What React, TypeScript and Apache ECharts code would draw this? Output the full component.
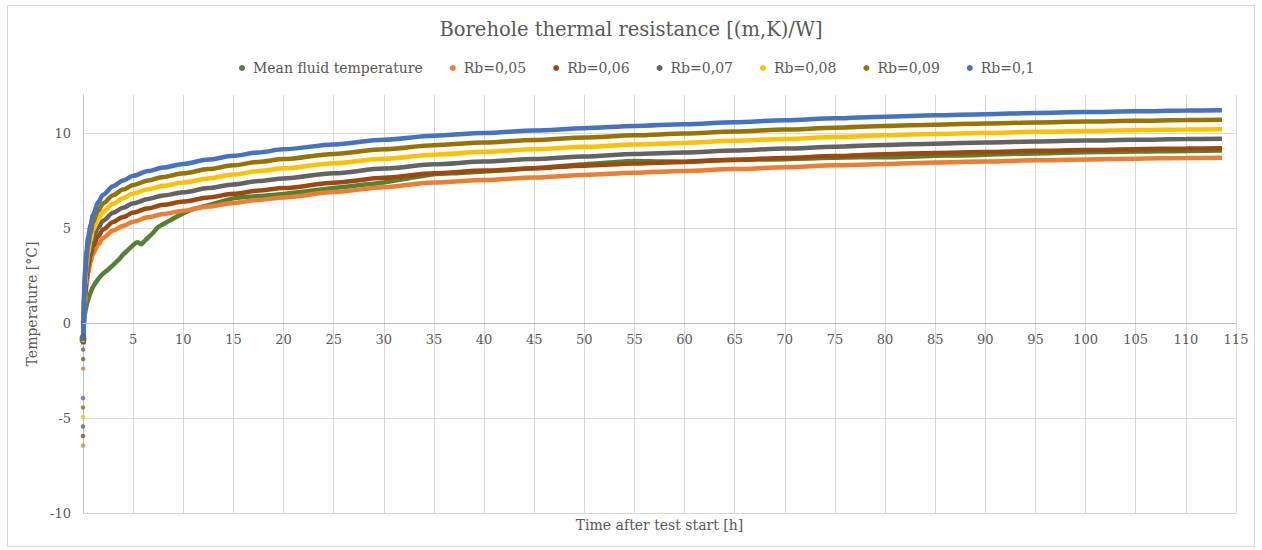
import React, { useEffect, useRef } from "react";
import * as echarts from "echarts";

// Hours after test start shared by the model curves
const hours = [
  0.02, 0.05, 0.1, 0.2, 0.35, 0.5, 0.75, 1, 1.5, 2, 3, 4, 5, 6.5, 8, 10, 12.5, 15, 17.5, 20,
  25, 30, 35, 40, 45, 50, 55, 60, 65, 70, 75, 80, 85, 90, 95, 100, 105, 110, 113.6,
];

// Modelled fluid temperature [°C] for each borehole thermal resistance
const rb005 = [
  -1.15, -0.6, 0.2, 1.1, 1.95, 2.6, 3.2, 3.65, 4.12, 4.48, 4.87, 5.12, 5.33, 5.56, 5.74, 5.91, 6.13,
  6.32, 6.48, 6.61, 6.89, 7.15, 7.4, 7.53, 7.66, 7.79, 7.91, 8.0, 8.1, 8.2, 8.3, 8.37, 8.45, 8.5,
  8.56, 8.61, 8.65, 8.68, 8.7,
];
const rb006 = [
  -1.1, -0.45, 0.45, 1.4, 2.3, 2.95, 3.55, 4.05, 4.55, 4.92, 5.32, 5.58, 5.81, 6.04, 6.22, 6.39,
  6.61, 6.8, 6.97, 7.1, 7.38, 7.64, 7.88, 8.02, 8.15, 8.28, 8.4, 8.48, 8.59, 8.69, 8.79, 8.88, 8.95,
  9.0, 9.06, 9.1, 9.15, 9.18, 9.2,
];
const rb007 = [
  -1.05, -0.3, 0.7, 1.7, 2.65, 3.3, 3.95, 4.45, 5.0, 5.38, 5.8, 6.07, 6.3, 6.53, 6.71, 6.88, 7.1,
  7.29, 7.47, 7.61, 7.88, 8.13, 8.35, 8.5, 8.63, 8.76, 8.89, 8.97, 9.08, 9.18, 9.28, 9.37, 9.44,
  9.5, 9.55, 9.6, 9.64, 9.68, 9.7,
];
const rb008 = [
  -1.0, -0.15, 0.95, 2.0, 3.0, 3.7, 4.35, 4.9, 5.45, 5.85, 6.28, 6.57, 6.82, 7.04, 7.22, 7.39, 7.61,
  7.81, 7.99, 8.14, 8.41, 8.65, 8.86, 9.01, 9.14, 9.27, 9.4, 9.48, 9.59, 9.69, 9.79, 9.88, 9.95,
  10.0, 10.06, 10.1, 10.15, 10.18, 10.2,
];
const rb009 = [
  -0.95, 0.0, 1.2, 2.35, 3.4, 4.1, 4.75, 5.3, 5.9, 6.3, 6.73, 7.02, 7.26, 7.5, 7.69, 7.88, 8.1, 8.3,
  8.48, 8.63, 8.9, 9.15, 9.36, 9.5, 9.63, 9.76, 9.88, 9.97, 10.08, 10.18, 10.28, 10.37, 10.44,
  10.5, 10.55, 10.6, 10.64, 10.68, 10.7,
];
const rb010 = [
  -0.9, 0.2, 1.5, 2.7, 3.8, 4.5, 5.15, 5.7, 6.35, 6.75, 7.2, 7.5, 7.75, 8.0, 8.18, 8.37, 8.6, 8.8,
  8.98, 9.14, 9.4, 9.65, 9.86, 10.0, 10.13, 10.25, 10.37, 10.46, 10.57, 10.67, 10.77, 10.86,
  10.93, 10.99, 11.05, 11.1, 11.14, 11.18, 11.2,
];

// First two model samples, before the curves take off
const startHours = [0, 0.01];
const rb005Start = [-6.45, -2.4];
const rb006Start = [-5.95, -1.9];
const rb007Start = [-5.45, -1.4];
const rb008Start = [-4.95, -0.9];
const rb009Start = [-4.45, -0.4];
const rb010Start = [-3.95, 0.1];

// Measured mean fluid temperature
const meanHours = [
  0, 0.03, 0.06, 0.1, 0.2, 0.35, 0.5, 0.75, 1, 1.5, 2, 2.5, 3, 3.5, 4, 4.5, 5, 5.4, 5.8, 6.2, 7,
  7.5, 8.5, 10, 11, 12.5, 15, 17.5, 20, 22.5, 25, 27.5, 30, 32.5, 35, 37.5, 40, 42.5, 45, 47.5, 50,
  52.5, 55, 57.5, 60, 62.5, 65, 67.5, 70, 72.5, 75, 77.5, 80, 82.5, 85, 87.5, 90, 92.5, 95, 97.5,
  100, 102.5, 105, 107.5, 110, 113.6,
];
const meanTemp = [
  -1.0, -0.9, -0.5, 0.0, 0.5, 0.9, 1.2, 1.6, 1.9, 2.3, 2.6, 2.8, 3.05, 3.3, 3.6, 3.85, 4.1, 4.25,
  4.15, 4.35, 4.75, 5.05, 5.35, 5.77, 6.0, 6.2, 6.56, 6.68, 6.79, 6.95, 7.1, 7.25, 7.4, 7.62, 7.83,
  7.9, 7.98, 8.05, 8.15, 8.25, 8.35, 8.45, 8.53, 8.5, 8.49, 8.55, 8.58, 8.6, 8.62, 8.66, 8.7, 8.72,
  8.72, 8.75, 8.8, 8.82, 8.85, 8.9, 8.92, 8.96, 8.99, 9.0, 9.02, 9.04, 9.05, 9.08,
];

const xTicks = { min: 0, max: 115, step: 5 };
const yTicks = { min: -10, max: 12, step: 5 };

const FONT = '"DejaVu Serif", serif';
const TEXT = "#595959";
const GRID_LINE = "#d9d9d9";
const AXIS_LINE = "#bfbfbf";

const modelSeries = [
  { name: "Rb=0,05", color: "#ED7D31", values: rb005, start: rb005Start },
  { name: "Rb=0,06", color: "#9E480E", values: rb006, start: rb006Start },
  { name: "Rb=0,07", color: "#636363", values: rb007, start: rb007Start },
  { name: "Rb=0,08", color: "#FFC000", values: rb008, start: rb008Start },
  { name: "Rb=0,09", color: "#997300", values: rb009, start: rb009Start },
  { name: "Rb=0,1", color: "#4472C4", values: rb010, start: rb010Start },
];
const meanName = "Mean fluid temperature";
const meanColor = "#548235";

// Plot rectangle in pixels
const PLOT = { left: 83, right: 26, top: 95, bottom: 37 };

export default function App() {
  const ref = useRef<HTMLDivElement>(null);

  useEffect(() => {
    document.body.style.margin = "0";
    if (!ref.current) return;
    const chart = echarts.init(ref.current, undefined, { renderer: "svg" });

    const plotHeight = 550 - PLOT.top - PLOT.bottom;
    // pixel row of 0 °C, where the time axis crosses
    const zeroRow = PLOT.top + (plotHeight * yTicks.max) / (yTicks.max - yTicks.min);

    const series: any[] = [
      {
        name: meanName,
        type: "line",
        data: meanHours.map((h, i) => [h, meanTemp[i]]),
        showSymbol: false,
        smooth: 0.2,
        lineStyle: { width: 4.5, color: meanColor },
        itemStyle: { color: meanColor },
        z: 2,
      },
    ];
    modelSeries.forEach((s, k) => {
      series.push({
        name: s.name,
        type: "line",
        data: hours.map((h, i) => [h, s.values[i]]),
        showSymbol: false,
        smooth: 0.3,
        smoothMonotone: "x",
        lineStyle: { width: 4.5, color: s.color },
        itemStyle: { color: s.color },
        z: 3 + k,
      });
      series.push({
        name: s.name,
        type: "scatter",
        data: startHours.map((h, i) => [h, s.start[i]]),
        symbolSize: 4.5,
        itemStyle: { color: s.color },
        z: 3 + k,
      });
    });

    const yLineCount = 6;
    const yLineColors = Array.from({ length: yLineCount }, (_, i) =>
      i === yLineCount - 1 ? "rgba(0,0,0,0)" : GRID_LINE
    );

    chart.setOption({
      animation: false,
      backgroundColor: "#ffffff",
      title: {
        text: "Borehole thermal resistance [(m,K)/W]",
        left: "center",
        top: 14,
        textStyle: { fontFamily: FONT, fontSize: 19.5, fontWeight: "normal", color: TEXT },
      },
      legend: {
        top: 56,
        left: 234,
        itemWidth: 6,
        itemHeight: 6,
        itemGap: 27,
        data: [meanName, ...modelSeries.map((s) => s.name)].map((name) => ({ name, icon: "circle" })),
        textStyle: { fontFamily: FONT, fontSize: 14, color: TEXT, padding: [0, 0, 0, 3] },
      },
      grid: [
        { left: PLOT.left, right: PLOT.right, top: PLOT.top, bottom: PLOT.bottom, containLabel: false },
        // upper part only: its bottom edge is the 0 °C row, where the time labels sit
        { left: PLOT.left, right: PLOT.right, top: PLOT.top, height: zeroRow - PLOT.top, containLabel: false },
      ],
      xAxis: [
        {
          type: "value",
          gridIndex: 0,
          min: xTicks.min,
          max: xTicks.max,
          interval: xTicks.step,
          axisLine: { show: false },
          axisTick: { show: false },
          axisLabel: { show: false },
          splitLine: { show: true, lineStyle: { color: GRID_LINE, width: 1 } },
        },
        {
          type: "value",
          gridIndex: 1,
          position: "bottom",
          min: xTicks.min,
          max: xTicks.max,
          interval: xTicks.step,
          axisLine: { show: true, onZero: false, lineStyle: { color: AXIS_LINE, width: 1 } },
          axisTick: { show: false },
          axisLabel: { color: TEXT, fontFamily: FONT, fontSize: 13, margin: 10 },
          splitLine: { show: false },
          z: 10,
        },
      ],
      yAxis: [
        {
          type: "value",
          gridIndex: 0,
          min: yTicks.min,
          max: yTicks.max,
          interval: yTicks.step,
          name: "Temperature [°C]",
          nameLocation: "middle",
          nameGap: 35,
          nameTextStyle: { fontFamily: FONT, fontSize: 14, color: TEXT },
          axisLine: { show: true, onZero: false, lineStyle: { color: AXIS_LINE, width: 1 } },
          axisTick: { show: false },
          axisLabel: { color: TEXT, fontFamily: FONT, fontSize: 13, margin: 12, showMaxLabel: false },
          splitLine: { show: true, lineStyle: { color: yLineColors, width: 1 } },
        },
        {
          type: "value",
          gridIndex: 1,
          min: 0,
          max: yTicks.max,
          show: false,
        },
      ],
      graphic: [
        {
          type: "rect",
          silent: true,
          shape: { x: 7.5, y: 5.5, width: 1247, height: 541 },
          style: { fill: "none", stroke: GRID_LINE, lineWidth: 1 },
        },
        {
          type: "text",
          silent: true,
          x: PLOT.left + (1262 - PLOT.left - PLOT.right) / 2,
          y: 525,
          style: {
            text: "Time after test start [h]",
            fontFamily: FONT,
            fontSize: 14,
            fill: TEXT,
            textAlign: "center",
            textVerticalAlign: "middle",
          },
        },
      ],
      series,
    });

    return () => chart.dispose();
  }, []);

  return <div ref={ref} style={{ width: 1262, height: 550 }} />;
}
